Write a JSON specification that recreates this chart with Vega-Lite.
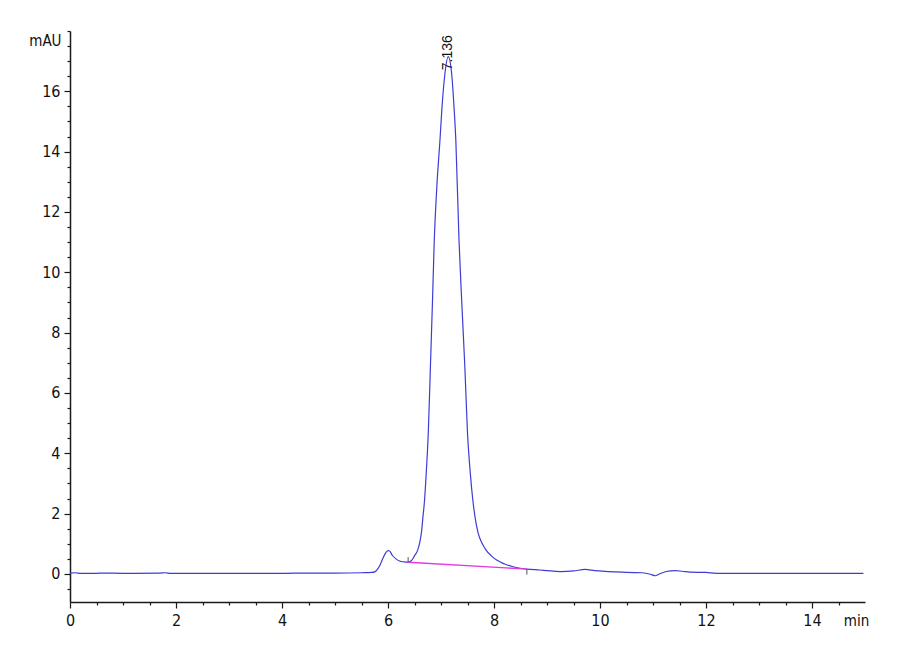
{
  "$schema": "https://vega.github.io/schema/vega-lite/v6.json",
  "width": 795,
  "height": 571,
  "autosize": "none",
  "padding": {"left": 70, "top": 31, "right": 35, "bottom": 58},
  "background": "white",
  "config": {
    "view": {"stroke": null},
    "axis": {
      "grid": false,
      "domainColor": "#1a1a1a",
      "domainWidth": 1.5,
      "tickColor": "#1a1a1a",
      "tickWidth": 1.2,
      "labelFont": "Liberation Sans Narrow, DejaVu Sans Condensed, Arial Narrow, sans-serif",
      "labelFontSize": 16,
      "labelColor": "#111111",
      "titleFont": "Liberation Sans Narrow, DejaVu Sans Condensed, Arial Narrow, sans-serif",
      "titleFontSize": 15,
      "titleFontWeight": "normal",
      "titleColor": "#111111"
    }
  },
  "datasets": {
    "trace": [
      {"t": 0, "v": 0.03}, {"t": 0.1, "v": 0.04}, {"t": 0.2, "v": 0.02}, {"t": 0.5, "v": 0.02},
      {"t": 0.6, "v": 0.03}, {"t": 1.0, "v": 0.02}, {"t": 1.7, "v": 0.03}, {"t": 1.8, "v": 0.04},
      {"t": 1.9, "v": 0.02}, {"t": 3.0, "v": 0.02}, {"t": 4.0, "v": 0.02}, {"t": 4.5, "v": 0.03},
      {"t": 5.0, "v": 0.03}, {"t": 5.5, "v": 0.04}, {"t": 5.7, "v": 0.05}, {"t": 5.75, "v": 0.07},
      {"t": 5.8, "v": 0.15}, {"t": 5.85, "v": 0.3}, {"t": 5.9, "v": 0.5}, {"t": 5.95, "v": 0.68},
      {"t": 6.0, "v": 0.77}, {"t": 6.03, "v": 0.76}, {"t": 6.08, "v": 0.62}, {"t": 6.15, "v": 0.5},
      {"t": 6.22, "v": 0.43}, {"t": 6.3, "v": 0.4}, {"t": 6.35, "v": 0.39}, {"t": 6.4, "v": 0.4},
      {"t": 6.45, "v": 0.46}, {"t": 6.5, "v": 0.6}, {"t": 6.56, "v": 0.79}, {"t": 6.6, "v": 1.05},
      {"t": 6.63, "v": 1.36}, {"t": 6.66, "v": 1.9}, {"t": 6.69, "v": 2.45}, {"t": 6.72, "v": 3.3},
      {"t": 6.76, "v": 4.67}, {"t": 6.8, "v": 6.86}, {"t": 6.84, "v": 9.07}, {"t": 6.87, "v": 10.9},
      {"t": 6.92, "v": 12.8}, {"t": 6.98, "v": 14.37}, {"t": 7.02, "v": 15.5}, {"t": 7.075, "v": 16.6},
      {"t": 7.136, "v": 17.15}, {"t": 7.2, "v": 16.6}, {"t": 7.245, "v": 15.5}, {"t": 7.28, "v": 14.37},
      {"t": 7.34, "v": 11.06}, {"t": 7.39, "v": 9.07}, {"t": 7.45, "v": 6.86}, {"t": 7.5, "v": 4.67},
      {"t": 7.55, "v": 3.4}, {"t": 7.6, "v": 2.45}, {"t": 7.65, "v": 1.8}, {"t": 7.7, "v": 1.36},
      {"t": 7.78, "v": 1.0}, {"t": 7.85, "v": 0.79}, {"t": 7.95, "v": 0.6}, {"t": 8.05, "v": 0.46},
      {"t": 8.2, "v": 0.33}, {"t": 8.36, "v": 0.24}, {"t": 8.5, "v": 0.19}, {"t": 8.62, "v": 0.16},
      {"t": 8.87, "v": 0.13}, {"t": 9.0, "v": 0.11}, {"t": 9.25, "v": 0.08}, {"t": 9.5, "v": 0.1},
      {"t": 9.72, "v": 0.15}, {"t": 9.9, "v": 0.11}, {"t": 10.2, "v": 0.08}, {"t": 10.5, "v": 0.05},
      {"t": 10.8, "v": 0.04}, {"t": 10.95, "v": -0.01}, {"t": 11.04, "v": -0.06}, {"t": 11.12, "v": 0.0},
      {"t": 11.25, "v": 0.08}, {"t": 11.42, "v": 0.11}, {"t": 11.55, "v": 0.09}, {"t": 11.7, "v": 0.06},
      {"t": 12.0, "v": 0.05}, {"t": 12.2, "v": 0.02}, {"t": 12.5, "v": 0.02}, {"t": 13.0, "v": 0.02},
      {"t": 14.0, "v": 0.02}, {"t": 14.97, "v": 0.02}
    ],
    "baseline": [
      {"t": 6.38, "v": 0.39},
      {"t": 8.62, "v": 0.16}
    ],
    "marks": [
      {"t": 6.38, "v": 0.39, "v2": 0.56},
      {"t": 8.62, "v": 0.16, "v2": -0.02}
    ],
    "peaks": [
      {"t": 7.136, "v": 16.7, "label": "7.136"}
    ]
  },
  "resolve": {"axis": {"x": "independent", "y": "independent"}},
  "layer": [
    {
      "data": {"name": "trace"},
      "mark": {"type": "line", "color": "#3d3dd6", "strokeWidth": 1.2, "interpolate": "monotone"},
      "encoding": {
        "x": {
          "field": "t", "type": "quantitative",
          "scale": {"domain": [0, 15], "nice": false, "zero": false},
          "axis": {
            "orient": "bottom",
            "values": [0, 2, 4, 6, 8, 10, 12, 14],
            "tickSize": 6,
            "labelPadding": 4,
            "labelFlush": false,
            "title": "min",
            "titleX": 786,
            "titleY": 18,
            "titleAlign": "center",
            "titleBaseline": "middle"
          }
        },
        "y": {
          "field": "v", "type": "quantitative",
          "scale": {"domain": [-0.93, 18], "nice": false, "zero": false},
          "axis": {
            "orient": "left",
            "values": [0, 2, 4, 6, 8, 10, 12, 14, 16],
            "tickSize": 6,
            "labelPadding": 4,
            "labelFlush": false,
            "title": "mAU",
            "titleAngle": 0,
            "titleX": -9,
            "titleY": 9,
            "titleAlign": "right",
            "titleBaseline": "middle"
          }
        }
      }
    },
    {
      "data": {"name": "baseline"},
      "mark": {"type": "line", "color": "#e23be2", "strokeWidth": 1.4},
      "encoding": {
        "x": {
          "field": "t", "type": "quantitative",
          "scale": {"domain": [0, 15], "nice": false, "zero": false},
          "axis": {
            "orient": "bottom",
            "values": [0.5, 1, 1.5, 2.5, 3, 3.5, 4.5, 5, 5.5, 6.5, 7, 7.5, 8.5, 9, 9.5, 10.5, 11, 11.5, 12.5, 13, 13.5, 14.5],
            "tickSize": 3,
            "labels": false,
            "domain": false,
            "title": null
          }
        },
        "y": {
          "field": "v", "type": "quantitative",
          "scale": {"domain": [-0.93, 18], "nice": false, "zero": false},
          "axis": {
            "orient": "left",
            "values": [-0.5, 0.5, 1, 1.5, 2.5, 3, 3.5, 4.5, 5, 5.5, 6.5, 7, 7.5, 8.5, 9, 9.5, 10.5, 11, 11.5, 12.5, 13, 13.5, 14.5, 15, 15.5, 16.5, 17, 17.5, 18],
            "tickSize": 3,
            "labels": false,
            "domain": false,
            "title": null
          }
        }
      }
    },
    {
      "data": {"name": "marks"},
      "mark": {"type": "rule", "color": "#555555", "strokeWidth": 1},
      "encoding": {
        "x": {"field": "t", "type": "quantitative", "scale": {"domain": [0, 15], "nice": false, "zero": false}, "axis": null},
        "y": {"field": "v", "type": "quantitative", "scale": {"domain": [-0.93, 18], "nice": false, "zero": false}, "axis": null},
        "y2": {"field": "v2"}
      }
    },
    {
      "data": {"name": "peaks"},
      "mark": {
        "type": "text",
        "angle": 270,
        "align": "left",
        "baseline": "middle",
        "font": "Liberation Sans, Arial, sans-serif",
        "fontSize": 14,
        "color": "#111111"
      },
      "encoding": {
        "x": {"field": "t", "type": "quantitative", "scale": {"domain": [0, 15], "nice": false, "zero": false}, "axis": null},
        "y": {"field": "v", "type": "quantitative", "scale": {"domain": [-0.93, 18], "nice": false, "zero": false}, "axis": null},
        "text": {"field": "label"}
      }
    }
  ]
}
